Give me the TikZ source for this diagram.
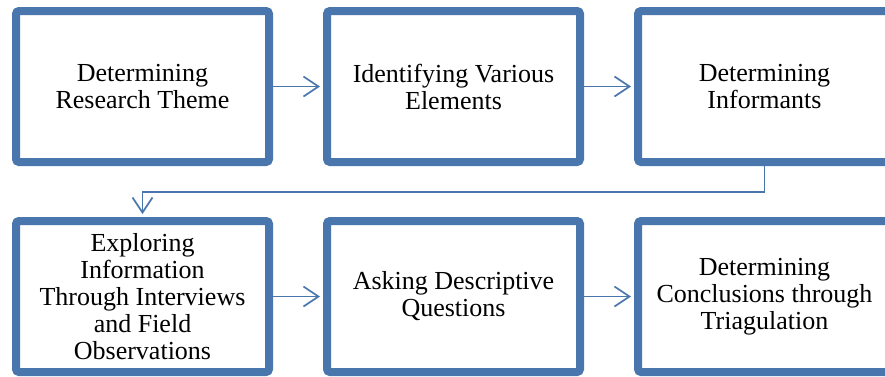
\documentclass[tikz,border=0pt]{standalone}
\usepackage{fontspec}
\setmainfont{Liberation Serif}
\usetikzlibrary{arrows.meta, positioning, shadows}
\definecolor{stepblue}{RGB}{74,118,174}

\begin{document}
\begin{tikzpicture}[x=1pt, y=1pt, >={Straight Barb[length=15pt,width=20pt]},
  stagebox/.style={draw=stepblue, line width=8pt, rounded corners=3pt, fill=white, minimum width=253pt, minimum height=151pt, align=center, inner sep=0pt, font=\fontsize{26}{27}\selectfont, drop shadow={shadow xshift=2pt, shadow yshift=-2pt, opacity=0.25}},
  link/.style={->, draw=stepblue, line width=1.7pt, shorten >=3pt}]
\useasboundingbox (0,0) rectangle (885,-376);
\node[stagebox] (b1) at (142.5,-86.5) {Determining\\Research Theme};
\node[stagebox, right=50pt of b1] (b2) {Identifying Various\\Elements};
\node[stagebox, right=50pt of b2] (b3) {Determining\\Informants};
\node[stagebox, below=51pt of b1] (b4) {Exploring\\Information\\Through Interviews\\and Field\\Observations};
\node[stagebox, right=50pt of b4] (b5) {Asking Descriptive\\Questions};
\node[stagebox, right=50pt of b5] (b6) {Determining\\Conclusions through\\Triagulation};
\draw[link] (b1) -- (b2); \draw[link] (b2) -- (b3);
\draw[link] (b3.south) -- ++(0,-26) -| (b4.north);
\draw[link] (b4) -- (b5); \draw[link] (b5) -- (b6);
\end{tikzpicture}
\end{document}
